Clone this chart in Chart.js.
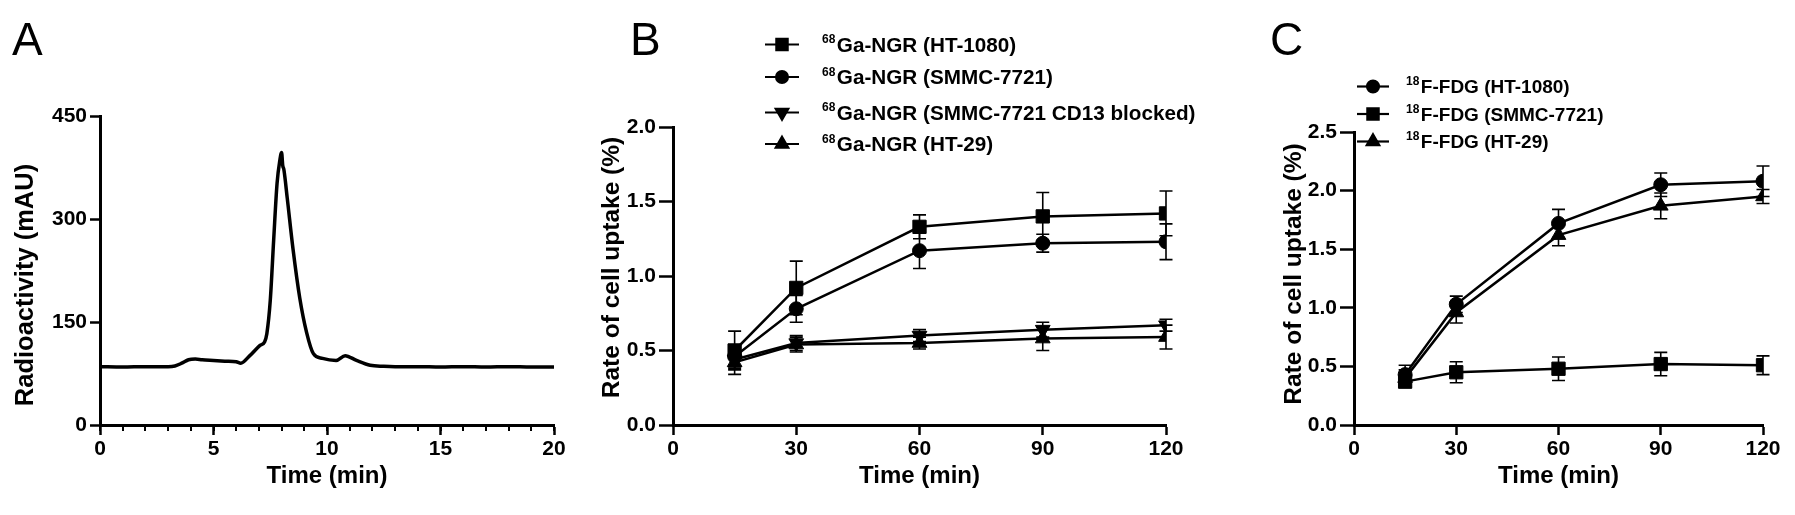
<!DOCTYPE html>
<html>
<head>
<meta charset="utf-8">
<title>68Ga-NGR / 18F-FDG uptake</title>
<script src="https://cdn.jsdelivr.net/npm/chart.js@4.4.1/dist/chart.umd.min.js"></script>
<style>
  html, body { margin: 0; padding: 0; background: #fff; }
  #page { position: relative; width: 1795px; height: 515px; overflow: hidden;
          font-family: 'Liberation Sans', Arial, Helvetica, sans-serif; }
  .panel { position: absolute; top: 0; }
  .letter { position: absolute; top: 16px; font-size: 46px; line-height: 46px; color: #000; }
</style>
</head>
<body>
<div id="page">
  <div class="panel" style="left:0"><canvas id="chartA" width="600" height="515"></canvas></div>
  <div class="panel" style="left:600px"><canvas id="chartB" width="620" height="515"></canvas></div>
  <div class="panel" style="left:1220px"><canvas id="chartC" width="575" height="515"></canvas></div>
  <div class="letter" style="left:12px">A</div>
  <div class="letter" style="left:630px">B</div>
  <div class="letter" style="left:1270px">C</div>
</div>

<script>
// ---- panel A: radio-HPLC trace ----
const hplcTime   = [0, 1, 2, 3, 3.3, 3.6, 3.9, 4.2, 4.5, 5, 5.5, 6, 6.2, 6.6, 7.05, 7.25, 7.35, 7.5, 7.65, 7.8,
                    7.92, 8.0, 8.05, 8.1, 8.25, 8.5, 8.8, 9.1, 9.4, 9.8, 10.4, 10.8, 11.3, 11.9, 12.5, 13,
                    14, 15, 16, 17, 18, 19, 20];
const hplcSignal = [85, 84.5, 85, 85, 86, 90, 95, 96, 95, 94, 93, 92, 90, 101, 116, 121, 133, 181, 269, 352,
                    385, 397, 378, 372, 330, 257, 185, 135, 104, 97, 94, 101, 94, 87, 85.5, 85,
                    85, 84.5, 85, 84.5, 85, 84.5, 84.5];
const hplcXTicks = [0, 5, 10, 15, 20];
const hplcYTicks = [0, 150, 300, 450];

// ---- panels B and C: cell uptake ----
const uptakeTime = [15, 30, 60, 90, 120];
const timeTicks  = [0, 30, 60, 90, 120];

const ngrIsotope = '68';
const ngrLabels  = ['Ga-NGR (HT-1080)', 'Ga-NGR (SMMC-7721)', 'Ga-NGR (SMMC-7721 CD13 blocked)', 'Ga-NGR (HT-29)'];
const ngrHT1080     = [0.50, 0.92, 1.33, 1.40, 1.42];
const ngrHT1080Err  = [0.13, 0.18, 0.08, 0.16, 0.15];
const ngrSMMC       = [0.46, 0.78, 1.17, 1.22, 1.23];
const ngrSMMCErr    = [0.08, 0.09, 0.12, 0.06, 0.12];
const ngrBlocked    = [0.44, 0.55, 0.60, 0.64, 0.67];
const ngrBlockedErr = [0.05, 0.05, 0.04, 0.05, 0.04];
const ngrHT29       = [0.42, 0.54, 0.55, 0.58, 0.59];
const ngrHT29Err    = [0.08, 0.05, 0.04, 0.08, 0.08];
const ngrYTicks     = [0, 0.5, 1.0, 1.5, 2.0];

const fdgIsotope = '18';
const fdgLabels  = ['F-FDG (HT-1080)', 'F-FDG (SMMC-7721)', 'F-FDG (HT-29)'];
const fdgHT1080    = [0.43, 1.03, 1.72, 2.05, 2.08];
const fdgHT1080Err = [0.08, 0.07, 0.12, 0.10, 0.13];
const fdgSMMC      = [0.37, 0.45, 0.48, 0.52, 0.51];
const fdgSMMCErr   = [0.05, 0.09, 0.10, 0.10, 0.08];
const fdgHT29      = [0.40, 0.96, 1.62, 1.87, 1.95];
const fdgHT29Err   = [0.07, 0.09, 0.09, 0.11, 0.06];
const fdgYTicks    = [0, 0.5, 1.0, 1.5, 2.0, 2.5];

const FONT = "'Liberation Sans', Arial, Helvetica, sans-serif";
Chart.defaults.font.family = FONT;
Chart.defaults.font.size = 21;
Chart.defaults.font.weight = 'bold';
Chart.defaults.color = '#000';
Chart.defaults.animation = false;

// vertical error bars, drawn under the markers
const errorBars = {
  id: 'errorBars',
  beforeDatasetsDraw(chart) {
    const { ctx, scales: { x, y } } = chart;
    ctx.save();
    ctx.strokeStyle = '#000';
    ctx.lineWidth = 1.6;
    chart.data.datasets.forEach(ds => {
      if (!ds.errors) return;
      ds.data.forEach((p, i) => {
        const px = x.getPixelForValue(p.x);
        const top = y.getPixelForValue(p.y + ds.errors[i]);
        const bot = y.getPixelForValue(p.y - ds.errors[i]);
        ctx.beginPath();
        ctx.moveTo(px, top); ctx.lineTo(px, bot);
        ctx.moveTo(px - 6.5, top); ctx.lineTo(px + 6.5, top);
        ctx.moveTo(px - 6.5, bot); ctx.lineTo(px + 6.5, bot);
        ctx.stroke();
      });
    });
    ctx.restore();
  }
};

// short ticks between the labelled ones (panel A)
const minorTicks = {
  id: 'minorTicks',
  afterDraw(chart, args, opts) {
    if (!opts.step) return;
    const x = chart.scales.x, ctx = chart.ctx;
    ctx.save();
    ctx.strokeStyle = '#000';
    ctx.lineWidth = 2;
    for (let v = x.min; v <= x.max + 1e-9; v += opts.step) {
      const px = Math.round(x.getPixelForValue(v));
      ctx.beginPath();
      ctx.moveTo(px, x.top);
      ctx.lineTo(px, x.top + opts.length);
      ctx.stroke();
    }
    ctx.restore();
  }
};

// GraphPad style legend: line + marker, superscript isotope, name
const markerLegend = {
  id: 'markerLegend',
  afterDraw(chart, args, opts) {
    if (!opts.rows) return;
    const ctx = chart.ctx;
    chart.data.datasets.forEach((ds, i) => {
      const y = opts.rows[i];
      ctx.save();
      ctx.strokeStyle = '#000';
      ctx.fillStyle = '#000';
      ctx.lineWidth = 2.2;
      ctx.beginPath();
      ctx.moveTo(opts.left, y);
      ctx.lineTo(opts.left + opts.lineLength, y);
      ctx.stroke();
      Chart.helpers.drawPoint(ctx, {
        pointStyle: ds.pointStyle,
        rotation: ds.pointRotation,
        radius: ds.pointRadius * 0.85,
        borderWidth: 1
      }, opts.left + opts.lineLength / 2, y);
      ctx.textAlign = 'left';
      ctx.textBaseline = 'alphabetic';
      ctx.font = 'bold 12px ' + FONT;
      ctx.fillText(ds.isotope, opts.textLeft, y - 1.5);
      const supW = ctx.measureText(ds.isotope).width;
      ctx.font = 'bold ' + opts.size + 'px ' + FONT;
      ctx.fillText(ds.name, opts.textLeft + supW + 1.5, y + 0.358 * opts.size);
      ctx.restore();
    });
  }
};

// rotated y axis title at a set centre
const sideTitle = {
  id: 'sideTitle',
  afterDraw(chart, args, opts) {
    if (!opts.text) return;
    const ctx = chart.ctx;
    ctx.save();
    ctx.translate(opts.x, opts.y);
    ctx.rotate(-Math.PI / 2);
    ctx.font = 'bold ' + opts.size + 'px ' + FONT;
    ctx.fillStyle = '#000';
    ctx.textAlign = 'center';
    ctx.textBaseline = 'middle';
    ctx.fillText(opts.text, 0, 0);
    ctx.restore();
  }
};

function series(name, iso, values, err, style, radius, rotation) {
  return {
    label: iso + name,
    name: name,
    isotope: iso,
    data: uptakeTime.map((t, i) => ({ x: t, y: values[i] })),
    errors: err,
    borderColor: '#000',
    backgroundColor: '#000',
    borderWidth: 2.5,
    pointStyle: style,
    pointRadius: radius,
    pointHoverRadius: radius,
    pointRotation: rotation || 0,
    pointBackgroundColor: '#000',
    pointBorderColor: '#000',
    pointBorderWidth: 1,
    tension: 0,
    fill: false
  };
}

// fixed plot box inside each canvas
function axes(box, xMax, xTicks, yMax, yTicks, yFmt, yTickLen) {
  return {
    x: {
      type: 'linear', min: 0, max: xMax,
      afterBuildTicks: s => { s.ticks = xTicks.map(v => ({ value: v })); },
      afterFit: s => { s.height = 515 - box.bottom; },
      ticks: { padding: 2, font: { size: 21 } },
      grid: { drawOnChartArea: false, tickLength: 10, tickWidth: 2.5, tickColor: '#000' },
      border: { color: '#000', width: 3 },
      title: { display: true, text: 'Time (min)', font: { size: 24, weight: 'bold' },
               padding: { top: 0, bottom: 24 } }
    },
    y: {
      type: 'linear', min: 0, max: yMax,
      afterBuildTicks: s => { s.ticks = yTicks.map(v => ({ value: v })); },
      afterFit: s => { s.width = box.left; },
      ticks: { padding: 3, font: { size: 21 }, callback: yFmt },
      grid: { drawOnChartArea: false, tickLength: yTickLen, tickWidth: 2.5, tickColor: '#000' },
      border: { color: '#000', width: 3 }
    }
  };
}

function layout(box, canvasW) {
  return { padding: { left: 0, top: box.top, right: canvasW - box.right, bottom: 0 } };
}

// Panel A
const boxA = { left: 100, right: 554, top: 116, bottom: 425 };
new Chart(document.getElementById('chartA'), {
  type: 'line',
  data: {
    datasets: [{
      label: 'Radioactivity',
      data: hplcTime.map((t, i) => ({ x: t, y: hplcSignal[i] })),
      borderColor: '#000',
      borderWidth: 3.5,
      pointRadius: 0,
      cubicInterpolationMode: 'monotone',
      fill: false
    }]
  },
  options: {
    responsive: false,
    devicePixelRatio: 1,
    layout: layout(boxA, 600),
    scales: axes(boxA, 20, hplcXTicks, 450, hplcYTicks, v => v, 10),
    plugins: {
      legend: { display: false },
      tooltip: { enabled: false },
      minorTicks: { step: 1, length: 6 },
      sideTitle: { text: 'Radioactivity (mAU)', x: 26, y: 285, size: 25.5 }
    }
  },
  plugins: [minorTicks, sideTitle]
});

// Panel B
const boxB = { left: 73, right: 566, top: 127, bottom: 425 };
new Chart(document.getElementById('chartB'), {
  type: 'line',
  data: {
    datasets: [
      series(ngrLabels[0], ngrIsotope, ngrHT1080, ngrHT1080Err, 'rect', 9.4),
      series(ngrLabels[1], ngrIsotope, ngrSMMC, ngrSMMCErr, 'circle', 7),
      series(ngrLabels[2], ngrIsotope, ngrBlocked, ngrBlockedErr, 'triangle', 8.5, 180),
      series(ngrLabels[3], ngrIsotope, ngrHT29, ngrHT29Err, 'triangle', 8.5)
    ]
  },
  options: {
    responsive: false,
    devicePixelRatio: 1,
    layout: layout(boxB, 620),
    scales: axes(boxB, 120, timeTicks, 2.0, ngrYTicks, v => v.toFixed(1), 14),
    plugins: {
      legend: { display: false },
      tooltip: { enabled: false },
      markerLegend: { left: 165, lineLength: 34, textLeft: 222, size: 20.7, rows: [44.5, 77, 112.5, 144] },
      sideTitle: { text: 'Rate of cell uptake (%)', x: 12, y: 267.5, size: 24.5 }
    }
  },
  plugins: [errorBars, markerLegend, sideTitle]
});

// Panel C
const boxC = { left: 134, right: 543, top: 132, bottom: 425 };
new Chart(document.getElementById('chartC'), {
  type: 'line',
  data: {
    datasets: [
      series(fdgLabels[0], fdgIsotope, fdgHT1080, fdgHT1080Err, 'circle', 7),
      series(fdgLabels[1], fdgIsotope, fdgSMMC, fdgSMMCErr, 'rect', 9.4),
      series(fdgLabels[2], fdgIsotope, fdgHT29, fdgHT29Err, 'triangle', 8.5)
    ]
  },
  options: {
    responsive: false,
    devicePixelRatio: 1,
    layout: layout(boxC, 575),
    scales: axes(boxC, 120, timeTicks, 2.5, fdgYTicks, v => v.toFixed(1), 14),
    plugins: {
      legend: { display: false },
      tooltip: { enabled: false },
      markerLegend: { left: 137, lineLength: 32, textLeft: 186, size: 19, rows: [86.5, 114, 141.5] },
      sideTitle: { text: 'Rate of cell uptake (%)', x: 74, y: 274, size: 24.5 }
    }
  },
  plugins: [errorBars, markerLegend, sideTitle]
});
</script>
</body>
</html>
